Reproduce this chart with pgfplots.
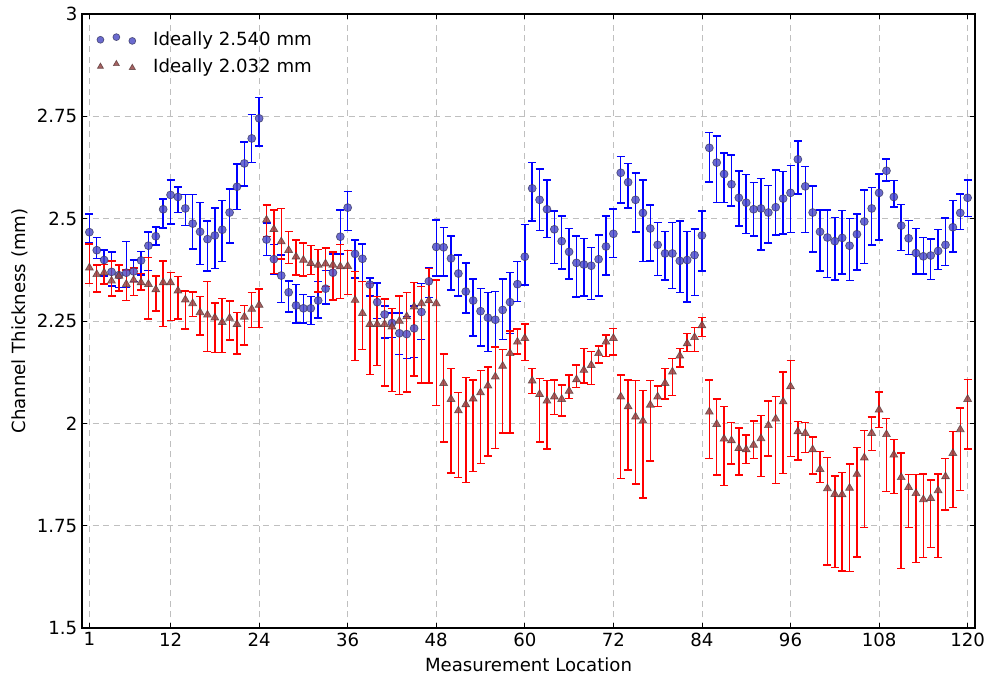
\documentclass[border=0pt]{standalone}
\usepackage{pgfplots}
\usepackage{pgfplotstable}
\pgfplotsset{compat=1.18}
\usepackage{fontspec}
\setmainfont{DejaVu Sans}

\definecolor{bfill}{RGB}{70,70,195}
\definecolor{bedge}{RGB}{50,50,90}
\definecolor{rfill}{RGB}{150,70,70}
\definecolor{redge}{RGB}{85,55,55}

\pgfplotstableread{
x y hi lo
1 2.467 2.511 2.441
2 2.423 2.454 2.403
3 2.399 2.423 2.360
4 2.370 2.419 2.336
5 2.362 2.387 2.332
6 2.368 2.444 2.332
7 2.371 2.399 2.346
8 2.398 2.420 2.362
9 2.434 2.467 2.374
10 2.457 2.480 2.436
11 2.523 2.548 2.477
12 2.558 2.595 2.487
13 2.553 2.577 2.515
14 2.525 2.559 2.483
15 2.488 2.559 2.426
16 2.468 2.539 2.388
17 2.450 2.494 2.372
18 2.459 2.526 2.378
19 2.473 2.545 2.395
20 2.515 2.572 2.440
21 2.578 2.634 2.523
22 2.635 2.687 2.580
23 2.696 2.754 2.637
24 2.745 2.796 2.677
25 2.449 2.489 2.410
26 2.401 2.437 2.365
27 2.361 2.411 2.295
28 2.320 2.348 2.272
29 2.288 2.339 2.245
30 2.281 2.315 2.245
31 2.281 2.310 2.242
32 2.300 2.346 2.257
33 2.329 2.373 2.292
34 2.368 2.414 2.301
35 2.456 2.521 2.414
36 2.527 2.566 2.471
37 2.414 2.448 2.355
38 2.402 2.438 2.346
39 2.339 2.355 2.311
40 2.296 2.343 2.256
41 2.266 2.287 2.209
42 2.245 2.270 2.210
43 2.220 2.269 2.168
44 2.218 2.261 2.159
45 2.232 2.287 2.161
46 2.272 2.342 2.205
47 2.347 2.379 2.308
48 2.431 2.497 2.360
49 2.430 2.478 2.360
50 2.403 2.458 2.326
51 2.366 2.411 2.311
52 2.322 2.392 2.269
53 2.300 2.353 2.213
54 2.274 2.330 2.189
55 2.258 2.319 2.175
56 2.253 2.322 2.187
57 2.277 2.353 2.205
58 2.296 2.369 2.220
59 2.340 2.395 2.297
60 2.407 2.486 2.338
61 2.574 2.637 2.494
62 2.546 2.621 2.471
63 2.523 2.594 2.454
64 2.474 2.519 2.391
65 2.445 2.507 2.377
66 2.419 2.476 2.353
67 2.392 2.458 2.309
68 2.388 2.451 2.311
69 2.385 2.430 2.303
70 2.401 2.460 2.311
71 2.432 2.507 2.362
72 2.463 2.524 2.405
73 2.612 2.652 2.538
74 2.589 2.635 2.526
75 2.546 2.611 2.468
76 2.514 2.594 2.395
77 2.476 2.533 2.397
78 2.436 2.491 2.361
79 2.415 2.468 2.350
80 2.415 2.490 2.330
81 2.397 2.494 2.320
82 2.399 2.468 2.296
83 2.411 2.475 2.312
84 2.459 2.519 2.372
85 2.673 2.711 2.590
86 2.637 2.702 2.539
87 2.609 2.660 2.540
88 2.584 2.655 2.531
89 2.551 2.617 2.482
90 2.539 2.608 2.464
91 2.523 2.589 2.458
92 2.525 2.598 2.423
93 2.515 2.581 2.440
94 2.528 2.619 2.460
95 2.549 2.615 2.462
96 2.563 2.630 2.466
97 2.645 2.690 2.560
98 2.579 2.627 2.466
99 2.515 2.580 2.419
100 2.468 2.521 2.372
101 2.454 2.521 2.356
102 2.445 2.503 2.350
103 2.453 2.520 2.365
104 2.434 2.500 2.349
105 2.462 2.511 2.375
106 2.493 2.570 2.391
107 2.525 2.576 2.436
108 2.563 2.609 2.448
109 2.617 2.646 2.592
110 2.553 2.593 2.529
111 2.483 2.535 2.422
112 2.452 2.496 2.413
113 2.416 2.476 2.365
114 2.408 2.454 2.365
115 2.410 2.450 2.352
116 2.421 2.474 2.376
117 2.436 2.502 2.386
118 2.479 2.545 2.419
119 2.514 2.560 2.474
120 2.551 2.594 2.505
}\bluedata

\pgfplotstableread{
x y hi lo
1 2.380 2.438 2.342
2 2.364 2.387 2.321
3 2.368 2.388 2.340
4 2.348 2.397 2.311
5 2.360 2.387 2.323
6 2.340 2.375 2.300
7 2.350 2.379 2.312
8 2.344 2.366 2.326
9 2.340 2.405 2.255
10 2.327 2.360 2.274
11 2.344 2.397 2.236
12 2.344 2.369 2.251
13 2.324 2.359 2.255
14 2.302 2.323 2.231
15 2.293 2.321 2.261
16 2.271 2.310 2.216
17 2.265 2.346 2.175
18 2.258 2.294 2.173
19 2.247 2.305 2.173
20 2.257 2.299 2.204
21 2.242 2.271 2.169
22 2.260 2.288 2.191
23 2.279 2.320 2.234
24 2.289 2.328 2.234
25 2.497 2.533 2.456
26 2.474 2.521 2.366
27 2.444 2.525 2.401
28 2.423 2.468 2.391
29 2.407 2.448 2.362
30 2.399 2.441 2.360
31 2.391 2.434 2.364
32 2.387 2.425 2.321
33 2.390 2.428 2.334
34 2.387 2.419 2.301
35 2.383 2.437 2.305
36 2.384 2.422 2.315
37 2.301 2.371 2.153
38 2.269 2.346 2.181
39 2.242 2.342 2.119
40 2.242 2.310 2.141
41 2.242 2.304 2.091
42 2.236 2.281 2.078
43 2.250 2.311 2.071
44 2.261 2.319 2.076
45 2.285 2.344 2.116
46 2.293 2.334 2.098
47 2.300 2.378 2.098
48 2.293 2.350 2.043
49 2.098 2.169 1.954
50 2.059 2.134 1.879
51 2.031 2.075 1.868
52 2.046 2.112 1.856
53 2.060 2.106 1.882
54 2.075 2.129 1.902
55 2.092 2.138 1.920
56 2.114 2.187 1.938
57 2.140 2.181 1.976
58 2.171 2.226 1.976
59 2.199 2.230 2.169
60 2.208 2.243 2.153
61 2.104 2.134 2.073
62 2.071 2.110 1.954
63 2.055 2.104 1.937
64 2.065 2.106 2.022
65 2.059 2.094 2.018
66 2.079 2.118 2.061
67 2.107 2.142 2.087
68 2.130 2.183 2.098
69 2.142 2.175 2.095
70 2.171 2.189 2.147
71 2.199 2.216 2.163
72 2.208 2.232 2.167
73 2.065 2.118 1.865
74 2.041 2.106 1.886
75 2.016 2.104 1.852
76 2.006 2.080 1.818
77 2.045 2.104 1.908
78 2.065 2.091 2.041
79 2.098 2.134 2.059
80 2.126 2.159 2.068
81 2.165 2.183 2.138
82 2.195 2.220 2.175
83 2.210 2.234 2.175
84 2.239 2.258 2.212
85 2.028 2.106 1.914
86 1.998 2.059 1.874
87 1.962 2.041 1.848
88 1.958 2.002 1.901
89 1.939 1.989 1.874
90 1.936 1.971 1.902
91 1.947 2.006 1.914
92 1.963 2.019 1.870
93 1.995 2.055 1.920
94 2.011 2.065 1.853
95 2.053 2.125 1.878
96 2.090 2.153 1.919
97 1.980 2.005 1.910
98 1.976 2.002 1.929
99 1.936 1.967 1.876
100 1.888 1.931 1.855
101 1.841 1.916 1.654
102 1.827 1.871 1.648
103 1.826 1.880 1.639
104 1.842 1.901 1.638
105 1.876 1.941 1.674
106 1.916 1.982 1.746
107 1.976 2.015 1.933
108 2.033 2.076 1.990
109 1.973 2.012 1.833
110 1.923 1.961 1.829
111 1.868 1.927 1.646
112 1.844 1.875 1.746
113 1.829 1.875 1.660
114 1.814 1.876 1.672
115 1.817 1.862 1.697
116 1.836 1.876 1.672
117 1.870 1.914 1.788
118 1.927 1.980 1.794
119 1.985 2.037 1.836
120 2.059 2.107 1.937
}\reddata

\begin{document}
\begin{tikzpicture}
\begin{axis}[
  at={(0,0)}, anchor=south west,
  scale only axis,
  width=669.75pt, height=460.5pt,
  xmin=0, xmax=121, ymin=1.5, ymax=3,
  xtick={1,12,24,36,48,60,72,84,96,108,120},
  ytick={1.5,1.75,2,2.25,2.5,2.75,3},
  yticklabels={1.5,1.75,2,2.25,2.5,2.75,3},
  xticklabels={1,12,24,36,48,60,72,84,96,108,120},
  tick align=inside,
  major tick length=3.5pt,
  tick style={black, line width=0.6pt},
  axis line style={black, line width=0.8pt},
  grid=major,
  grid style={gray!50, line width=0.6pt, dash pattern=on 4.5pt off 3.5pt},
  font=\fontsize{13.6}{16}\selectfont,
  /pgf/number format/assume math mode=true,
  xlabel={Measurement Location},
  ylabel={Channel Thickness (mm)},
  xlabel style={at={(axis description cs:0.5,-0.0603)}, anchor=center},
  ylabel style={at={(axis description cs:-0.0694,0.5)}, anchor=center, rotate=0},
  legend style={at={(0.012,0.980)}, anchor=north west, draw=none, fill=none,
    font=\fontsize{13.6}{16}\selectfont, row sep=4.25pt,
    nodes={inner sep=2pt}},
  legend cell align=left,
  legend image code/.code={%
    \draw[#1, only marks, mark size=2.6pt] plot coordinates {(0cm,0cm) (0.42cm,0.07cm) (0.84cm,-0.03cm)};
    \path[draw=none, fill=none] (0cm,0cm) (1.32cm,0cm);
  },
]
% blue error bars
\addplot[forget plot, draw=none, mark=none,
  error bars/.cd, y dir=both, y explicit,
  error bar style={draw=blue, line width=1.1pt},
  error mark options={draw=blue, line width=1.1pt, mark size=3pt, rotate=90}]
  table[x=x, y=y, y error plus expr=\thisrow{hi}-\thisrow{y}, y error minus expr=\thisrow{y}-\thisrow{lo}] {\bluedata};
% blue markers
\addplot[only marks, mark=*, mark size=3pt,
  mark options={fill=bfill, draw=bedge, fill opacity=0.8, draw opacity=0.75, line width=0.5pt}]
  table[x=x, y=y] {\bluedata};
\addlegendentry{Ideally 2.540 mm}
% red error bars
\addplot[forget plot, draw=none, mark=none,
  error bars/.cd, y dir=both, y explicit,
  error bar style={draw=red, line width=1.1pt},
  error mark options={draw=red, line width=1.1pt, mark size=3pt, rotate=90}]
  table[x=x, y=y, y error plus expr=\thisrow{hi}-\thisrow{y}, y error minus expr=\thisrow{y}-\thisrow{lo}] {\reddata};
% red markers
\addplot[only marks, mark=triangle*, mark size=3.4pt,
  mark options={fill=rfill, draw=redge, fill opacity=0.85, draw opacity=0.75, line width=0.5pt}]
  table[x=x, y=y] {\reddata};
\addlegendentry{Ideally 2.032 mm}
\end{axis}
\pgfresetboundingbox
\path (-61.5pt,-38.25pt) rectangle (679.5pt,471pt);
\end{tikzpicture}
\end{document}
